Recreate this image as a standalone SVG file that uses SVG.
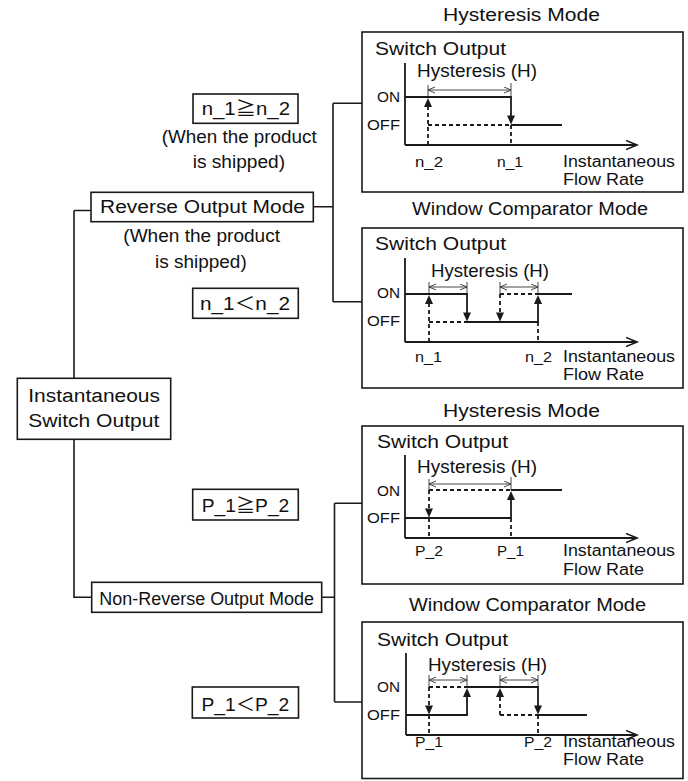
<svg xmlns="http://www.w3.org/2000/svg" width="688" height="781" viewBox="0 0 688 781">
<defs>
<style>
text{font-family:"Liberation Sans",Arial,"Noto Sans CJK JP",sans-serif;fill:#111;font-size:18px}
.s{font-size:15px}
.f{font-size:16px}
.box{fill:#fff;stroke:#1a1a1a;stroke-width:1.6}
.ln{fill:none;stroke:#1a1a1a;stroke-width:1.6}
.sig{fill:none;stroke:#1a1a1a;stroke-width:1.8}
.dash{fill:none;stroke:#1a1a1a;stroke-width:1.8;stroke-dasharray:4 3}
.dim{fill:none;stroke:#333;stroke-width:0.9;marker-start:url(#open);marker-end:url(#open)}
.tk{fill:none;stroke:#333;stroke-width:0.9}
.ax{fill:none;stroke:#1a1a1a;stroke-width:1.8;marker-end:url(#axh)}
.ah{fill:#1a1a1a}
</style>
<marker id="open" markerUnits="userSpaceOnUse" markerWidth="10" markerHeight="8" refX="7" refY="3.5" orient="auto-start-reverse">
<path d="M0,0.5 L7,3.5 L0,6.5" fill="none" stroke="#333" stroke-width="0.9"/>
</marker>
<marker id="axh" markerUnits="userSpaceOnUse" markerWidth="14" markerHeight="12" refX="11" refY="5" orient="auto">
<path d="M0,0.5 L11,5 L0,9.5" fill="none" stroke="#1a1a1a" stroke-width="1.6"/>
</marker>
</defs>

<g id="connectors">
<path class="ln" d="M74,210.5 H91 M74,210.5 V378.3 M74,439.3 V597.3 H91.7"/>
<path class="ln" d="M313.3,206.7 H333 M333,103.3 V301.7 M333,103.3 H362 M333,301.7 H362"/>
<path class="ln" d="M321.7,597.3 H334.5 M334.5,503.3 V702 M334.5,503.3 H362 M334.5,702 H362"/>
</g>

<g id="root">
<rect class="box" x="17.3" y="378.3" width="153.4" height="61"/>
<text x="28.3" y="401.7" textLength="131.7" lengthAdjust="spacingAndGlyphs">Instantaneous</text>
<text x="28.3" y="426.7" textLength="131" lengthAdjust="spacingAndGlyphs">Switch Output</text>
</g>

<g id="reverse">
<rect class="box" x="91" y="192.3" width="222.3" height="29.4"/>
<text x="100" y="213.3" textLength="205" lengthAdjust="spacingAndGlyphs">Reverse Output Mode</text>
<text x="123.3" y="241.7" textLength="156.7" lengthAdjust="spacingAndGlyphs">(When the product</text>
<text x="155" y="268.3" textLength="91.7" lengthAdjust="spacingAndGlyphs">is shipped)</text>
</g>

<g id="nonreverse">
<rect class="box" x="91.7" y="582.3" width="230" height="30"/>
<text x="99.3" y="605" textLength="214.7" lengthAdjust="spacingAndGlyphs">Non-Reverse Output Mode</text>
</g>

<g id="cond-n-ge">
<rect class="box" x="193" y="94" width="105" height="29.3"/>
<text x="201.7" y="115" textLength="88.3" lengthAdjust="spacingAndGlyphs">n_1≧n_2</text>
<text x="161.7" y="143.3" textLength="155" lengthAdjust="spacingAndGlyphs">(When the product</text>
<text x="192.7" y="168.3" textLength="92.3" lengthAdjust="spacingAndGlyphs">is shipped)</text>
</g>

<g id="cond-n-lt">
<rect class="box" x="192.7" y="288.3" width="105.6" height="30"/>
<text x="200" y="310" textLength="90" lengthAdjust="spacingAndGlyphs">n_1＜n_2</text>
</g>

<g id="cond-p-ge">
<rect class="box" x="192.7" y="489.3" width="105.6" height="30.7"/>
<text x="201.7" y="511.7" textLength="87.6" lengthAdjust="spacingAndGlyphs">P_1≧P_2</text>
</g>

<g id="cond-p-lt">
<rect class="box" x="192.3" y="687" width="106.2" height="31"/>
<text x="201.5" y="711" textLength="87.7" lengthAdjust="spacingAndGlyphs">P_1＜P_2</text>
</g>

<!-- Chart 1 -->
<g id="chart-rev-hyst">
<text x="443" y="21" textLength="157" lengthAdjust="spacingAndGlyphs">Hysteresis Mode</text>
<rect class="box" x="362" y="32" width="321" height="160"/>
<text x="375" y="55" textLength="131" lengthAdjust="spacingAndGlyphs">Switch Output</text>
<text x="417" y="77" textLength="120" lengthAdjust="spacingAndGlyphs">Hysteresis (H)</text>
<text class="s" x="377" y="102" textLength="23" lengthAdjust="spacingAndGlyphs">ON</text>
<text class="s" x="367" y="130" textLength="33" lengthAdjust="spacingAndGlyphs">OFF</text>
<path class="sig" d="M405,63 V145"/>
<path class="ax" d="M405,145 H637"/>
<path class="tk" d="M428,85 V97 M511,83 V97"/>
<path class="dim" d="M428,90 H511"/>
<path class="sig" d="M405,97 H511 V116 M511,125 H562"/>
<polygon class="ah" points="511,124.5 507,115.5 515,115.5"/>
<path class="dash" d="M428,145 V106 M428,125 H511 M511,125 V145"/>
<polygon class="ah" points="428,98 424,107 432,107"/>
<text class="s" x="415" y="167" textLength="28" lengthAdjust="spacingAndGlyphs">n_2</text>
<text class="s" x="497" y="167" textLength="26" lengthAdjust="spacingAndGlyphs">n_1</text>
<text class="f" x="563" y="167" textLength="112" lengthAdjust="spacingAndGlyphs">Instantaneous</text>
<text class="f" x="563" y="185" textLength="81" lengthAdjust="spacingAndGlyphs">Flow Rate</text>
</g>

<!-- Chart 2 -->
<g id="chart-rev-window">
<text x="412" y="215" textLength="236" lengthAdjust="spacingAndGlyphs">Window Comparator Mode</text>
<rect class="box" x="362" y="228" width="321" height="160"/>
<text x="375" y="250" textLength="131" lengthAdjust="spacingAndGlyphs">Switch Output</text>
<text x="431" y="277" textLength="118" lengthAdjust="spacingAndGlyphs">Hysteresis (H)</text>
<text class="s" x="377" y="298" textLength="23" lengthAdjust="spacingAndGlyphs">ON</text>
<text class="s" x="367" y="326" textLength="33" lengthAdjust="spacingAndGlyphs">OFF</text>
<path class="sig" d="M405,258 V342"/>
<path class="ax" d="M405,342 H637"/>
<path class="tk" d="M429,282 V294 M467,282 V294 M500,282 V294 M538,282 V294"/>
<path class="dim" d="M429,287 H467"/>
<path class="dim" d="M500,287 H538"/>
<path class="sig" d="M405,294 H467 V313 M467,322 H538 V303 M538,294 H572"/>
<polygon class="ah" points="467,321.5 463,312.5 471,312.5"/>
<polygon class="ah" points="538,295 534,304 542,304"/>
<path class="dash" d="M429,342 V303 M429,322 H467 M500,294 H538 M500,294 V313 M538,322 V342"/>
<polygon class="ah" points="429,295 425,304 433,304"/>
<polygon class="ah" points="500,321.5 496,312.5 504,312.5"/>
<text class="s" x="415" y="362" textLength="27" lengthAdjust="spacingAndGlyphs">n_1</text>
<text class="s" x="525" y="362" textLength="27" lengthAdjust="spacingAndGlyphs">n_2</text>
<text class="f" x="563" y="362" textLength="112" lengthAdjust="spacingAndGlyphs">Instantaneous</text>
<text class="f" x="563" y="380" textLength="81" lengthAdjust="spacingAndGlyphs">Flow Rate</text>
</g>

<!-- Chart 3 -->
<g id="chart-nonrev-hyst">
<text x="443" y="417" textLength="157" lengthAdjust="spacingAndGlyphs">Hysteresis Mode</text>
<rect class="box" x="362" y="426" width="321" height="158"/>
<text x="377" y="448" textLength="131" lengthAdjust="spacingAndGlyphs">Switch Output</text>
<text x="417" y="473" textLength="120" lengthAdjust="spacingAndGlyphs">Hysteresis (H)</text>
<text class="s" x="377" y="496" textLength="23" lengthAdjust="spacingAndGlyphs">ON</text>
<text class="s" x="367" y="523" textLength="33" lengthAdjust="spacingAndGlyphs">OFF</text>
<path class="sig" d="M405,455 V538"/>
<path class="ax" d="M405,538 H637"/>
<path class="tk" d="M429,479 V490 M511,477 V490"/>
<path class="dim" d="M429,484 H511"/>
<path class="sig" d="M405,518 H511 V499 M511,490 H562"/>
<polygon class="ah" points="511,491 507,500 515,500"/>
<path class="dash" d="M429,490 H511 M429,490 V509 M429,518 V538 M511,518 V538"/>
<polygon class="ah" points="429,517.5 425,508.5 433,508.5"/>
<text class="s" x="415" y="556" textLength="28" lengthAdjust="spacingAndGlyphs">P_2</text>
<text class="s" x="497" y="556" textLength="27" lengthAdjust="spacingAndGlyphs">P_1</text>
<text class="f" x="563" y="556" textLength="112" lengthAdjust="spacingAndGlyphs">Instantaneous</text>
<text class="f" x="563" y="575" textLength="81" lengthAdjust="spacingAndGlyphs">Flow Rate</text>
</g>

<!-- Chart 4 -->
<g id="chart-nonrev-window">
<text x="409" y="611" textLength="237" lengthAdjust="spacingAndGlyphs">Window Comparator Mode</text>
<rect class="box" x="362" y="622" width="321" height="156.5"/>
<text x="377" y="646" textLength="131" lengthAdjust="spacingAndGlyphs">Switch Output</text>
<text x="428" y="671" textLength="119" lengthAdjust="spacingAndGlyphs">Hysteresis (H)</text>
<text class="s" x="377" y="692" textLength="23" lengthAdjust="spacingAndGlyphs">ON</text>
<text class="s" x="367" y="720" textLength="33" lengthAdjust="spacingAndGlyphs">OFF</text>
<path class="sig" d="M406,653 V735"/>
<path class="ax" d="M406,735 H637"/>
<path class="tk" d="M429,675 V687 M467,675 V687 M500,675 V687 M538,675 V687"/>
<path class="dim" d="M429,680 H467"/>
<path class="dim" d="M500,680 H538"/>
<path class="sig" d="M406,715 H467 V696 M467,687 H538 V706 M538,715 H587"/>
<polygon class="ah" points="467,688 463,697 471,697"/>
<polygon class="ah" points="538,714.5 534,705.5 542,705.5"/>
<path class="dash" d="M429,687 H467 M429,687 V706 M429,715 V735 M500,715 V696 M500,715 H538 M538,715 V735"/>
<polygon class="ah" points="429,714.5 425,705.5 433,705.5"/>
<polygon class="ah" points="500,688 496,697 504,697"/>
<text class="s" x="415" y="747" textLength="28" lengthAdjust="spacingAndGlyphs">P_1</text>
<text class="s" x="524" y="747" textLength="28" lengthAdjust="spacingAndGlyphs">P_2</text>
<text class="f" x="563" y="747" textLength="112" lengthAdjust="spacingAndGlyphs">Instantaneous</text>
<text class="f" x="563" y="765" textLength="81" lengthAdjust="spacingAndGlyphs">Flow Rate</text>
</g>
</svg>
